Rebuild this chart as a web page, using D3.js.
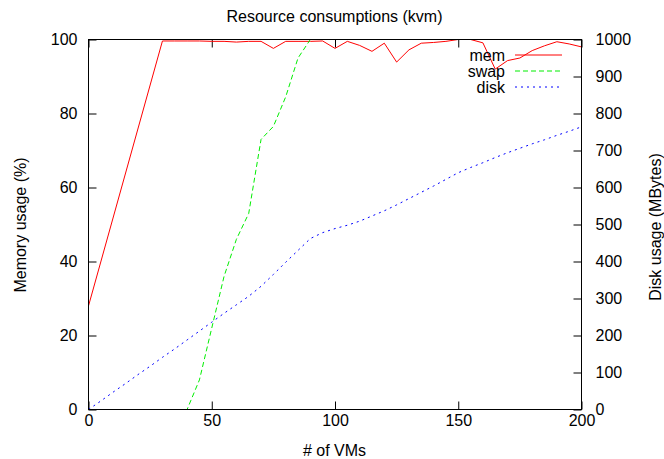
<html>
<meta charset="utf-8">
<script src="https://d3js.org/d3.v7.min.js"></script>
<style>
  body { margin: 0; background: #fff; }
  text { font-family: "Liberation Sans", Arial, sans-serif; font-size: 16px; fill: #000; }
</style>
<body>
<div id="chart"></div>
<script>
// # of VMs (common sampling for swap and disk)
var vms = [0, 5, 10, 15, 20, 25, 30, 35, 40, 45, 50, 55, 60, 65, 70, 75, 80, 85, 90, 95, 100,
           105, 110, 115, 120, 125, 130, 135, 140, 145, 150, 155, 160, 165, 170, 175, 180, 185, 190, 195, 200];

// memory usage (%) - own sampling
var memVms = [0, 30, 35, 40, 45, 50, 55, 60, 65, 70, 75, 80, 85, 90, 95, 100, 105, 110, 115, 120,
              125, 130, 135, 140, 145, 150, 155, 160, 165, 170, 175, 180, 185, 190, 195, 200];
var mem = [28, 99.6, 99.6, 99.6, 99.6, 99.5, 99.5, 99.3, 99.5, 99.5, 97.6, 99.5, 99.5, 99.5, 99.6, 97.6,
           99.5, 98.4, 96.8, 99.0, 93.9, 97.2, 99.0, 99.2, 99.5, 100, 100, 99.1, 92.0, 94.3, 95.0, 97.0,
           98.3, 99.4, 98.8, 98.0];

// swap usage (%)
var swap = [0, 0, 0, 0, 0, 0, 0, 0, 0, 8, 22, 36, 46, 53, 73, 76.5, 84.5, 95, 100, 100, 100,
            100, 100, 100, 100, 100, 100, 100, 100, 100, 100, 100, 100, 100, 100, 100, 100, 100, 100, 100, 100];

// disk usage (MBytes)
var disk = [0, 23, 47, 70, 94, 117, 141, 164, 188, 212, 236, 260, 283, 306, 333, 365, 398, 430, 462, 478, 489,
            498, 509, 523, 537, 553, 570, 587, 604, 622, 640, 654, 667, 681, 694, 706, 718, 729, 741, 752, 764];

var xTicks = [0, 50, 100, 150, 200];
var yTicks = [0, 20, 40, 60, 80, 100];
var y2Ticks = [0, 100, 200, 300, 400, 500, 600, 700, 800, 900, 1000];

var WIDTH = 664, HEIGHT = 459;
var LEFT = 88.5, RIGHT = 581.5, TOP = 39.5, BOTTOM = 409.5;

var svg = d3.select("#chart").append("svg")
    .attr("width", WIDTH).attr("height", HEIGHT);

var x = d3.scaleLinear().domain([0, 200]).range([LEFT, RIGHT]);
var y = d3.scaleLinear().domain([0, 100]).range([BOTTOM, TOP]);
var y2 = d3.scaleLinear().domain([0, 1000]).range([BOTTOM, TOP]);

var fmt = d3.format("d");

// axes, ticks pointing inwards like gnuplot
var gx = svg.append("g").attr("transform", "translate(0," + BOTTOM + ")")
    .call(d3.axisBottom(x).tickValues(xTicks).tickFormat(fmt).tickSizeInner(-8).tickSizeOuter(0).tickPadding(5));
var gxTop = svg.append("g").attr("transform", "translate(0," + TOP + ")")
    .call(d3.axisTop(x).tickValues(xTicks).tickSizeInner(-8).tickSizeOuter(0).tickFormat(""));
var gy = svg.append("g").attr("transform", "translate(" + LEFT + ",0)")
    .call(d3.axisLeft(y).tickValues(yTicks).tickFormat(fmt).tickSizeInner(-8).tickSizeOuter(0).tickPadding(11));
var gy2 = svg.append("g").attr("transform", "translate(" + RIGHT + ",0)")
    .call(d3.axisRight(y2).tickValues(y2Ticks).tickFormat(fmt).tickSizeInner(-8).tickSizeOuter(0).tickPadding(14));

[gx, gxTop, gy, gy2].forEach(function (g) {
  g.select(".domain").remove();
  g.selectAll("line").attr("stroke", "#000");
  g.selectAll("text").attr("font-size", null).attr("font-family", null);
});

// clip
svg.append("clipPath").attr("id", "plot")
  .append("rect").attr("x", LEFT).attr("y", TOP - 1)
  .attr("width", RIGHT - LEFT).attr("height", BOTTOM - TOP + 1);

var curves = svg.append("g").attr("clip-path", "url(#plot)");

var memLine = d3.line().x(function (d, i) { return x(memVms[i]); }).y(function (d) { return y(d); });
var swapLine = d3.line().x(function (d, i) { return x(vms[i]); }).y(function (d) { return y(d); });
var diskLine = d3.line().x(function (d, i) { return x(vms[i]); }).y(function (d) { return y2(d); });

curves.append("path").datum(mem).attr("d", memLine)
  .style("fill", "none").style("stroke", "#ff0000").style("stroke-width", 1);
curves.append("path").datum(swap).attr("d", swapLine)
  .style("fill", "none").style("stroke", "#00ee00").style("stroke-width", 1)
  .style("stroke-dasharray", "5,3");
curves.append("path").datum(disk).attr("d", diskLine)
  .style("fill", "none").style("stroke", "#0000ff").style("stroke-width", 1)
  .style("stroke-dasharray", "2,4");

// border
svg.append("rect").attr("x", LEFT).attr("y", TOP)
  .attr("width", RIGHT - LEFT).attr("height", BOTTOM - TOP)
  .style("fill", "none").style("stroke", "#000");

// legend
var legend = [
  { name: "mem", color: "#ff0000", dash: "none" },
  { name: "swap", color: "#00ee00", dash: "5,3" },
  { name: "disk", color: "#0000ff", dash: "2,4" }
];
var lg = svg.append("g");
legend.forEach(function (d, i) {
  var yy = 55 + i * 16;
  lg.append("text").attr("x", 505).attr("y", yy + 6)
    .attr("text-anchor", "end").text(d.name);
  lg.append("path").attr("d", "M515," + yy + "H562")
    .style("fill", "none").style("stroke", d.color).style("stroke-width", 1)
    .style("stroke-dasharray", d.dash);
});

// titles
svg.append("text").attr("x", 334.5).attr("y", 22).attr("text-anchor", "middle")
  .text("Resource consumptions (kvm)");
svg.append("text").attr("x", 334.5).attr("y", 456).attr("text-anchor", "middle")
  .text("# of VMs");
svg.append("text").attr("transform", "translate(26,225) rotate(-90)")
  .attr("text-anchor", "middle").text("Memory usage (%)");
svg.append("text").attr("transform", "translate(661,227) rotate(-90)")
  .attr("text-anchor", "middle").text("Disk usage (MBytes)");
</script>
</body>
</html>
